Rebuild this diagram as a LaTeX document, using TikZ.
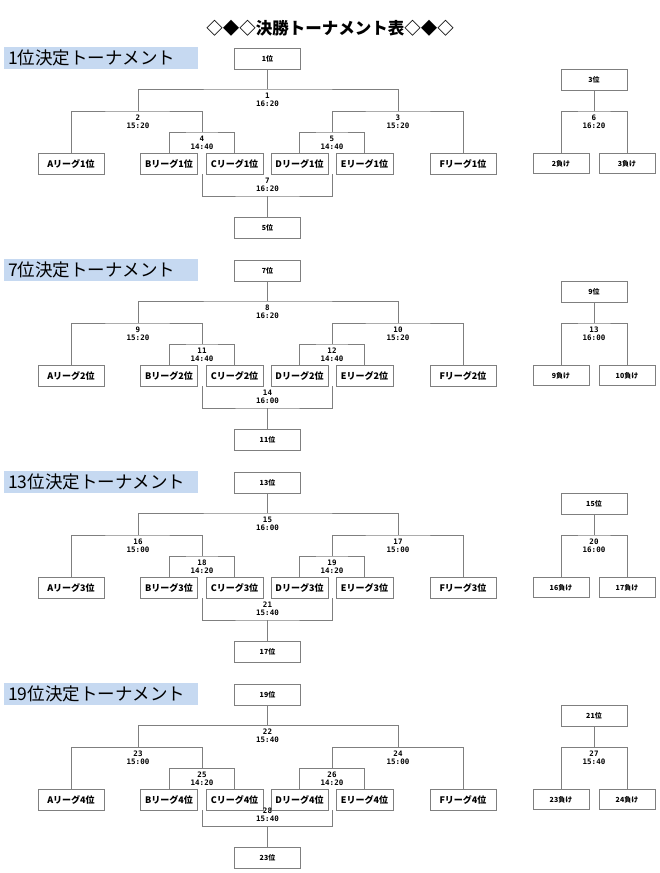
\documentclass[tikz,border=0pt]{standalone}
\usepackage{fontspec}
\setmainfont{Noto Sans CJK JP}
\newfontfamily\timefont{DejaVu Sans Mono}
\definecolor{linegray}{HTML}{7F7F7F}
\definecolor{headblue}{HTML}{C6D9F1}
\tikzset{
  wire/.style={draw=linegray, line width=0.8pt},
  rankbox/.style={draw=linegray, line width=0.8pt, minimum width=66pt, minimum height=21pt, inner sep=0pt, font=\bfseries\fontsize{7}{8}\selectfont},
  teambox/.style={rankbox, minimum width=57pt, font=\bfseries\fontsize{9}{10}\selectfont},
  losebox/.style={rankbox, minimum width=56pt, minimum height=20pt},
  game/.style={anchor=north, align=center, inner xsep=0pt, inner ysep=4pt, font=\timefont\bfseries\fontsize{7.5}{8}\selectfont},
  headbox/.style={fill=headblue, anchor=west, minimum height=22pt, text width=186pt, inner xsep=4pt, inner ysep=0pt, align=left, font=\fontsize{17.5}{20}\selectfont}
}

\begin{document}
\begin{tikzpicture}[x=1pt, y=-1pt]
\useasboundingbox (0,0) rectangle (660,873);
\node (title) [font=\bfseries\fontsize{16.5}{20}\selectfont] at (330,28) {◇◆◇決勝トーナメント表◇◆◇};
\foreach \i/\win/\low/\third/\n/\lo/\ka/\kb/\kc/\klose/\kright in {1/1/5/3/1/196/16:20/15:20/14:40/16:20/16:20, 2/7/11/9/8/196/16:20/15:20/14:40/16:00/16:00, 3/13/17/15/15/196/16:00/15:00/14:20/15:40/16:00, 4/19/23/21/22/190/15:40/15:00/14:20/15:40/15:40}{
\pgfmathtruncatemacro\off{212*(\i-1)}
\pgfmathtruncatemacro\mtwo{\n+1}
\pgfmathtruncatemacro\mthree{\n+2}
\pgfmathtruncatemacro\mfour{\n+3}
\pgfmathtruncatemacro\mfive{\n+4}
\pgfmathtruncatemacro\msix{\n+5}
\pgfmathtruncatemacro\mseven{\n+6}
\begin{scope}[shift={(0,\off)}]
\node (head) [headbox] at (4,58) {\win{}位決定トーナメント};
\node (top) [rankbox] at (267.5,58.5) {\win{}位};
\node (g1) [game] at (267.5,89) {\n\\\ka};
\node (g2) [game] at (138,111) {\mtwo\\\kb};
\node (g3) [game] at (398,111) {\mthree\\\kb};
\node (g4) [game] at (202,132) {\mfour\\\kc};
\node (g5) [game] at (332,132) {\mfive\\\kc};
\node (ta) [teambox, minimum width=66pt] at (71,163.5) {Aリーグ\i{}位};
\node (tb) [teambox] at (169,163.5) {Bリーグ\i{}位};
\node (tc) [teambox] at (234.5,163.5) {Cリーグ\i{}位};
\node (td) [teambox] at (299.5,163.5) {Dリーグ\i{}位};
\node (te) [teambox] at (364.5,163.5) {Eリーグ\i{}位};
\node (tf) [teambox, minimum width=66pt] at (463,163.5) {Fリーグ\i{}位};
\coordinate (sl) at (202,174);
\coordinate (sr) at (332,174);
\node (g7) [game, anchor=south] at (267.5,\lo) {\mseven\\\klose};
\node (bottom) [rankbox] at (267.5,\lo+31.5) {\low{}位};
\draw[wire] (top.south) -- (g1.north);
\draw[wire] (g2.north) |- (g1.north) -| (g3.north);
\draw[wire] (ta.north) |- (g2.north) -| (g4.north);
\draw[wire] (g5.north) |- (g3.north) -| (tf.north);
\draw[wire] (tb.north) |- (g4.north) -| (tc.north);
\draw[wire] (td.north) |- (g5.north) -| (te.north);
\draw[wire] (sl) |- (g7.south) -| (sr);
\draw[wire] (g7.south) -- (bottom.north);
\node (side) [rankbox] at (594,79.5) {\third{}位};
\node (g6) [game] at (594,111) {\msix\\\kright};
\node (la) [losebox] at (561,163.5) {\mtwo{}負け};
\node (lb) [losebox] at (627,163.5) {\mthree{}負け};
\draw[wire] (side.south) -- (g6.north);
\draw[wire] (la.north) |- (g6.north) -| (lb.north);
\end{scope}
}
\end{tikzpicture}
\end{document}
